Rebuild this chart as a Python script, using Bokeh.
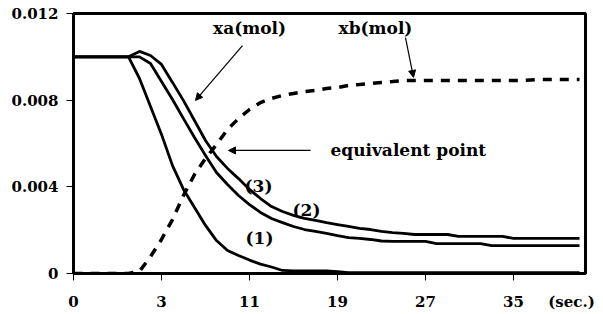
from bokeh.plotting import figure
from bokeh.models import (FixedTicker, CustomJSTickFormatter, Label, Arrow,
                          NormalHead, ColumnDataSource, LinearAxis)
from bokeh.embed import file_html
from bokeh.resources import INLINE

# ---- data (x = sample index on a category-like axis) ----
t = list(range(47))
tick_pos = [0, 8, 16, 24, 32, 40]
tick_labels = ["0", "3", "11", "19", "27", "35"]
unit_pos = 45.27
unit_label = "(sec.)"

xa_1 = [0.0100, 0.0100, 0.0100, 0.0100, 0.0100, 0.0100, 0.00900, 0.00771,
        0.00642, 0.00498, 0.00388, 0.00305, 0.00222, 0.00152, 0.00106,
        0.00083, 0.00062, 0.00043, 0.00030, 0.00014, 0.00012, 0.00012,
        0.00012, 0.00012, 0.00008] + [0.00004] * 22

xa_2 = [0.0100, 0.0100, 0.0100, 0.0100, 0.0100, 0.0100, 0.0100, 0.00969,
        0.00886, 0.00803, 0.00715, 0.00628, 0.00545, 0.00466, 0.00411,
        0.00360, 0.00318, 0.00282, 0.00254, 0.00235, 0.00217, 0.00203,
        0.00194, 0.00185, 0.00175, 0.00166, 0.00162, 0.00157, 0.00150,
        0.00148, 0.00148, 0.00148, 0.00148, 0.00138, 0.00138, 0.00138,
        0.00138, 0.00138, 0.00129, 0.00129, 0.00129, 0.00129, 0.00129,
        0.00129, 0.00129, 0.00129, 0.00129]

xa_3 = [0.0100, 0.0100, 0.0100, 0.0100, 0.0100, 0.0100, 0.01025, 0.01006,
        0.00965, 0.00882, 0.00798, 0.00706, 0.00614, 0.00540, 0.00485,
        0.00438, 0.00388, 0.00346, 0.00309, 0.00286, 0.00268, 0.00254,
        0.00245, 0.00235, 0.00226, 0.00217, 0.00208, 0.00203, 0.00194,
        0.00189, 0.00185, 0.00180, 0.00180, 0.00180, 0.00180, 0.00171,
        0.00171, 0.00171, 0.00171, 0.00171, 0.00162, 0.00162, 0.00162,
        0.00162, 0.00162, 0.00162, 0.00162]

xb = [0.0, 0.0, 0.0, 0.0, 0.0, 0.0, 0.0001, 0.00078, 0.00157, 0.00249,
      0.00360, 0.00457, 0.00531, 0.00595, 0.00665, 0.00715, 0.00757,
      0.00789, 0.00808, 0.00822, 0.00831, 0.00840, 0.00845, 0.00854,
      0.00858, 0.00868, 0.00872, 0.00877, 0.00882, 0.00886] + \
     [0.00891] * 12 + [0.00895] * 5

FONT = "DejaVu Serif"

src = ColumnDataSource(dict(t=t, xa_1=xa_1, xa_2=xa_2, xa_3=xa_3, xb=xb))

p = figure(width=603, height=314, x_range=(0, 46.545), y_range=(0, 0.012),
           output_backend="svg", toolbar_location=None,
           min_border_left=73, min_border_right=18, min_border_top=13,
           min_border_bottom=41)
p.background_fill_color = "white"
p.border_fill_color = "white"
p.outline_line_color = "black"
p.outline_line_width = 3
p.xgrid.visible = False
p.ygrid.visible = False


def style(ax):
    ax.axis_line_width = 3
    ax.axis_line_color = "black"
    ax.major_tick_line_color = "black"
    ax.major_tick_line_width = 1
    ax.major_tick_out = 7
    ax.major_tick_in = 0
    ax.minor_tick_line_color = None
    ax.major_label_text_font = FONT
    ax.major_label_text_font_style = "bold"
    ax.major_label_text_font_size = "15px"
    ax.major_label_text_color = "black"


style(p.xaxis[0])
style(p.yaxis[0])

# x axis next to the frame: line and tick marks only
xa_ax = p.xaxis[0]
xa_ax.ticker = FixedTicker(ticks=tick_pos)
xa_ax.major_label_overrides = {k: "" for k in tick_pos}
xa_ax.major_label_text_font_size = "0px"
xa_ax.major_label_standoff = 0

# second x axis below it: the tick labels plus the "(sec.)" unit text
lab_ax = LinearAxis()
style(lab_ax)
lab_ax.axis_line_color = None
lab_ax.major_tick_line_color = None
lab_ax.major_tick_out = 0
lab_ax.ticker = FixedTicker(ticks=tick_pos + [unit_pos])
ovr = {k: v for k, v in zip(tick_pos, tick_labels)}
ovr[unit_pos] = unit_label
lab_ax.major_label_overrides = ovr
lab_ax.major_label_standoff = 12
p.add_layout(lab_ax, "below")

p.yaxis.ticker = FixedTicker(ticks=[0, 0.004, 0.008, 0.012])
p.yaxis.formatter = CustomJSTickFormatter(
    code="return Math.abs(tick) < 1e-9 ? '0' : tick.toFixed(3);")
p.yaxis.major_label_standoff = 8

p.line("t", "xb", source=src, line_color="black", line_width=3.5,
       line_dash="9 8")
for col in ("xa_1", "xa_2", "xa_3"):
    p.line("t", col, source=src, line_color="black", line_width=2.8)

lbl = dict(text_font=FONT, text_font_style="bold", text_font_size="17px",
           text_color="black", text_baseline="middle")
p.add_layout(Label(x=16.0, y=0.01131, text="xa(mol)", text_align="center", **lbl))
p.add_layout(Label(x=27.45, y=0.01131, text="xb(mol)", text_align="center", **lbl))
p.add_layout(Label(x=23.36, y=0.00568, text="equivalent point", text_align="left", **lbl))
p.add_layout(Label(x=16.82, y=0.00406, text="(3)", text_align="center", **lbl))
p.add_layout(Label(x=21.18, y=0.00291, text="(2)", text_align="center", **lbl))
p.add_layout(Label(x=16.91, y=0.00166, text="(1)", text_align="center", **lbl))


def arrow(x0, y0, x1, y1):
    p.add_layout(Arrow(end=NormalHead(size=7, fill_color="black",
                                      line_color="black", line_width=1),
                       x_start=x0, y_start=y0, x_end=x1, y_end=y1,
                       line_color="black", line_width=1.2))


arrow(15.36, 0.01052, 11.09, 0.00799)
arrow(30.18, 0.01089, 30.91, 0.00905)
arrow(21.55, 0.00568, 14.09, 0.00568)

open("out.html", "w").write(file_html(p, INLINE))
